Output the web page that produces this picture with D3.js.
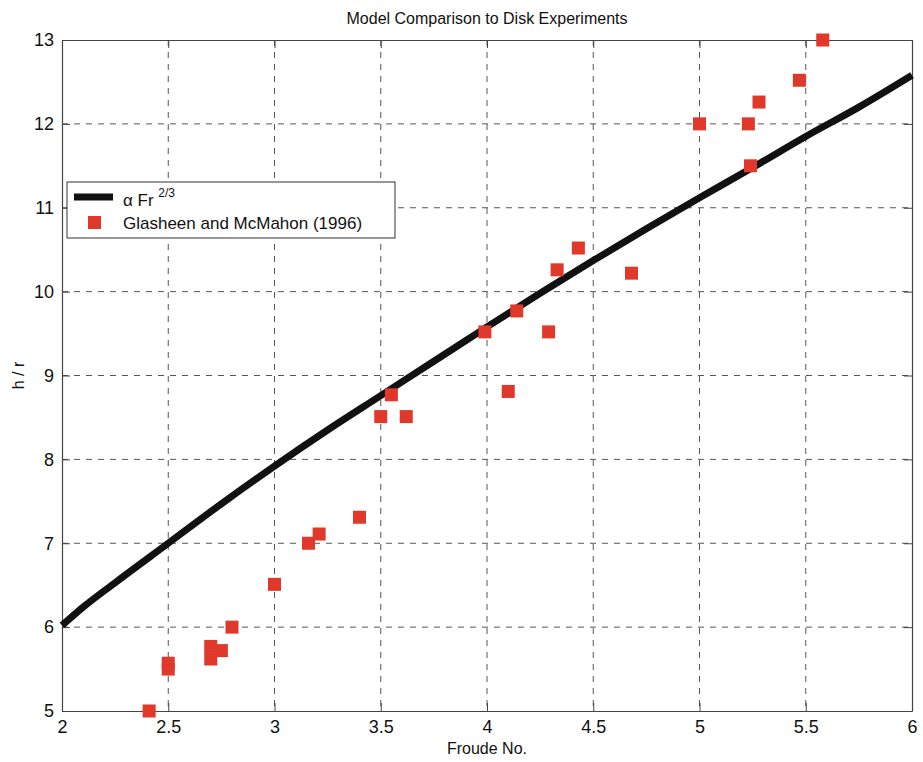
<!DOCTYPE html>
<html>
<head>
<meta charset="utf-8">
<script src="https://d3js.org/d3.v7.min.js"></script>
<style>
  body { margin: 0; background: #fff; }
  svg { font-family: "Liberation Sans", Arial, Helvetica, sans-serif; }
</style>
</head>
<body>
<svg id="chart" width="923" height="762"></svg>
<script>
// Model curve
const modelFr = [2.0, 2.1, 2.25, 2.5, 2.75, 3.0, 3.25, 3.5, 3.75, 4.0, 4.25, 4.5, 4.75, 5.0, 5.25, 5.5, 5.75, 6.0];
const modelHr = [6.02, 6.24, 6.53, 7.0, 7.47, 7.92, 8.35, 8.76, 9.17, 9.58, 9.98, 10.37, 10.75, 11.12, 11.48, 11.85, 12.2, 12.58];

// Glasheen and McMahon (1996) data
const expFr = [2.41, 2.5, 2.5, 2.7, 2.7, 2.75, 2.8, 3.0, 3.16, 3.21, 3.4, 3.5, 3.55, 3.62, 3.99, 4.1, 4.14, 4.29, 4.33, 4.43, 4.68, 5.0, 5.23, 5.24, 5.28, 5.47, 5.58];
const expHr = [5.0, 5.57, 5.5, 5.77, 5.62, 5.72, 6.0, 6.51, 7.0, 7.11, 7.31, 8.51, 8.77, 8.51, 9.52, 8.81, 9.77, 9.52, 10.26, 10.52, 10.22, 12.0, 12.0, 11.5, 12.26, 12.52, 13.0];

const xTicks = [2, 2.5, 3, 3.5, 4, 4.5, 5, 5.5, 6];
const yTicks = [5, 6, 7, 8, 9, 10, 11, 12, 13];

const titleText = "Model Comparison to Disk Experiments";
const xLabel = "Froude No.";
const yLabel = "h / r";
const seriesNames = ["Glasheen and McMahon (1996)"];

const svg = d3.select("#chart");
const L = 62, R = 912, T = 40, B = 711;

const x = d3.scaleLinear().domain([2, 6]).range([L, R]);
const y = d3.scaleLinear().domain([5, 13]).range([B, T]);

// grid
const grid = svg.append("g").attr("stroke", "#555").attr("stroke-width", 1).attr("stroke-dasharray", "6,6");
grid.selectAll(".gx").data(xTicks.slice(1, -1)).enter().append("line")
  .attr("x1", d => x(d)).attr("x2", d => x(d)).attr("y1", T).attr("y2", B);
grid.selectAll(".gy").data(yTicks.slice(1, -1)).enter().append("line")
  .attr("y1", d => y(d)).attr("y2", d => y(d)).attr("x1", L).attr("x2", R);

// axes
const tickFont = "18px";
const xAxis = svg.append("g").attr("transform", `translate(0,${B})`)
  .call(d3.axisBottom(x).tickValues(xTicks).tickSizeInner(-8).tickSizeOuter(0).tickPadding(14).tickFormat(d3.format("")));
const yAxis = svg.append("g").attr("transform", `translate(${L},0)`)
  .call(d3.axisLeft(y).tickValues(yTicks).tickSizeInner(-8).tickSizeOuter(0).tickPadding(8).tickFormat(d3.format("d")));
svg.append("g").attr("transform", `translate(0,${T})`)
  .call(d3.axisTop(x).tickValues(xTicks).tickSizeInner(-8).tickSizeOuter(0).tickFormat(""));
svg.append("g").attr("transform", `translate(${R},0)`)
  .call(d3.axisRight(y).tickValues(yTicks).tickSizeInner(-8).tickSizeOuter(0).tickFormat(""));
svg.selectAll(".domain").attr("stroke", "#444").attr("stroke-width", 1.2);
svg.selectAll(".tick line").attr("stroke", "#444");
svg.selectAll(".tick text").attr("font-size", tickFont).attr("fill", "#111")
  .attr("font-family", "'Liberation Sans', Arial, sans-serif");
xAxis.selectAll(".tick text").attr("dy", "0.45em");

// model line
const lineData = modelFr.map((f, i) => [f, modelHr[i]]);
svg.append("path").datum(lineData)
  .attr("fill", "none").attr("stroke", "#111").attr("stroke-width", 7)
  .attr("stroke-linejoin", "round")
  .attr("d", d3.line().curve(d3.curveMonotoneX).x(d => x(d[0])).y(d => y(d[1])));

// experimental points
const ms = 13;
const ptData = expFr.map((f, i) => [f, expHr[i]]);
svg.append("g").selectAll("rect").data(ptData).enter().append("rect")
  .attr("x", d => x(d[0]) - ms / 2).attr("y", d => y(d[1]) - ms / 2)
  .attr("width", ms).attr("height", ms).attr("fill", "#e0392b");

// title & labels
svg.append("text").attr("x", (L + R) / 2).attr("y", 24).attr("text-anchor", "middle")
  .attr("font-size", "16px").attr("fill", "#111").text(titleText);
svg.append("text").attr("x", (L + R) / 2).attr("y", 754).attr("text-anchor", "middle")
  .attr("font-size", "16px").attr("fill", "#111").text(xLabel);
svg.append("text").attr("transform", `translate(24,${(T + B) / 2}) rotate(-90)`).attr("text-anchor", "middle")
  .attr("font-size", "16px").attr("fill", "#111").text(yLabel);

// legend
const lg = svg.append("g");
lg.append("rect").attr("x", 67).attr("y", 182).attr("width", 328).attr("height", 56)
  .attr("fill", "#fff").attr("stroke", "#333").attr("stroke-width", 1);
lg.append("line").attr("x1", 74).attr("x2", 113).attr("y1", 197).attr("y2", 197)
  .attr("stroke", "#111").attr("stroke-width", 7);
const t1 = lg.append("text").attr("x", 123).attr("y", 206).attr("font-size", "17px").attr("fill", "#111");
t1.append("tspan").text("\u03B1 Fr ");
t1.append("tspan").attr("font-size", "12px").attr("dy", "-9").text("2/3");
lg.append("rect").attr("x", 88).attr("y", 216).attr("width", ms).attr("height", ms).attr("fill", "#e0392b");
lg.append("text").attr("x", 123).attr("y", 229).attr("font-size", "17px").attr("fill", "#111").text(seriesNames[0]);
</script>
</body>
</html>
